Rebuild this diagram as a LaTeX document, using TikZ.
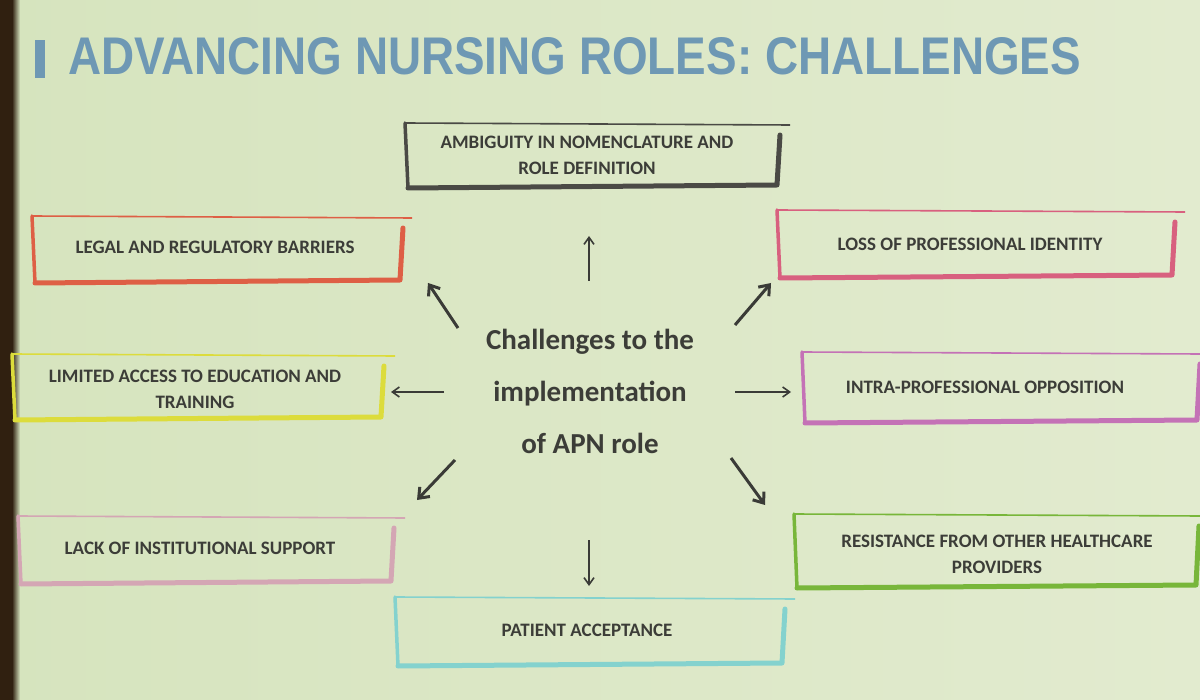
\documentclass[tikz,border=0pt]{standalone}
\usepackage{fontspec}
\setmainfont{Carlito}
\newfontfamily\titlefont{Liberation Sans}
\usetikzlibrary{arrows.meta}
\definecolor{bgA}{HTML}{D6E4BE}
\definecolor{bgB}{HTML}{E2EBCF}
\definecolor{titleblue}{HTML}{6E98B4}
\definecolor{txt}{HTML}{3C3D38}
\definecolor{arr}{HTML}{3A3B37}
\definecolor{cDark}{HTML}{4A4A45}
\definecolor{cRed}{HTML}{DE5F45}
\definecolor{cPink}{HTML}{D8607F}
\definecolor{cYellow}{HTML}{DCDC3C}
\definecolor{cViolet}{HTML}{C472B6}
\definecolor{cRose}{HTML}{D4A6B4}
\definecolor{cGreen}{HTML}{78B63A}
\definecolor{cTeal}{HTML}{84D2CE}
\tikzset{
  boxtext/.style={font=\fontsize{19}{26}\selectfont\bfseries, text=txt, align=center, inner sep=0pt},
  centertext/.style={font=\fontsize{29}{52}\selectfont\bfseries, text=txt, align=center, inner sep=0pt},
  thinarrow/.style={draw=arr, line width=1.6pt, -{Straight Barb[length=7pt,width=10pt,line width=1.6pt]}},
  thickarrow/.style={draw=arr, line width=3pt, -{Straight Barb[length=9pt,width=14pt,line width=3pt]}},
}
% frame: #1 colour, #2 x1, #3 y1, #4 x2, #5 y2, #6 top-line end
\newcommand{\sketchframe}[6]{%
  \draw[#1, line width=1.6pt] (#2,#3) -- (#6,#3+2);
  \draw[#1, line width=3.5pt, line cap=round, line join=round] (#2,#3) -- (#2+3,#5) -- (#4,#5-3);
  \draw[#1, line width=5pt, line cap=round, line join=round] (#2+3,#5) -- (#4,#5-3) -- (#4+3,#3+12);
}
\begin{document}
\begin{tikzpicture}[x=1pt,y=-1pt]
\useasboundingbox (0,0) rectangle (1200,700);
\shade[left color=bgA, right color=bgB] (0,0) rectangle (1200,700);
\fill[black!75!brown] (0,0) rectangle (12,700);
\shade[left color=black!75!brown, right color=bgA] (12,0) rectangle (20,700);
% title
\fill[titleblue] (35,40) rectangle (45,78);
\node[anchor=west, inner sep=0pt, text=titleblue, font=\titlefont\bfseries\fontsize{53}{53}\selectfont, xscale=0.865] (title) at (68,56) {ADVANCING NURSING ROLES: CHALLENGES};
% centre
\node[centertext] (center) at (590,391) {Challenges to the\\implementation\\of APN role};
% boxes
\sketchframe{cDark}{405}{123}{777}{188}{790}
\node[boxtext] (amb) at (587,155) {AMBIGUITY IN NOMENCLATURE AND\\ROLE DEFINITION};
\sketchframe{cRed}{32}{216}{400}{283}{412}
\node[boxtext] (legal) at (215,247) {LEGAL AND REGULATORY BARRIERS};
\sketchframe{cPink}{777}{210}{1172}{278}{1185}
\node[boxtext] (loss) at (970,244) {LOSS OF PROFESSIONAL IDENTITY};
\sketchframe{cYellow}{12}{354}{381}{420}{395}
\node[boxtext] (lim) at (195,389) {LIMITED ACCESS TO EDUCATION AND\\TRAINING};
\sketchframe{cViolet}{802}{352}{1197}{423}{1200}
\node[boxtext] (intra) at (985,387) {INTRA-PROFESSIONAL OPPOSITION};
\sketchframe{cRose}{18}{516}{391}{584}{405}
\node[boxtext] (lack) at (200,548) {LACK OF INSTITUTIONAL SUPPORT};
\sketchframe{cGreen}{794}{514}{1196}{588}{1200}
\node[boxtext] (res) at (997,554) {RESISTANCE FROM OTHER HEALTHCARE\\PROVIDERS};
\sketchframe{cTeal}{395}{597}{782}{666}{795}
\node[boxtext] (pat) at (587,630) {PATIENT ACCEPTANCE};
% arrow end points
\coordinate (uS) at (589,281); \coordinate (uE) at (589,236);
\coordinate (nwS) at (458,328); \coordinate (nwE) at (428,283);
\coordinate (neS) at (735,325); \coordinate (neE) at (771,283);
\coordinate (lS) at (444,392); \coordinate (lE) at (391,392);
\coordinate (rS) at (735,392); \coordinate (rE) at (791,392);
\coordinate (swS) at (455,460); \coordinate (swE) at (417,500);
\coordinate (seS) at (731,458); \coordinate (seE) at (765,505);
\coordinate (dS) at (589,540); \coordinate (dE) at (589,586);
\draw[thinarrow] (uS) -- (uE);
\draw[thickarrow] (nwS) -- (nwE);
\draw[thickarrow] (neS) -- (neE);
\draw[thinarrow] (lS) -- (lE);
\draw[thinarrow] (rS) -- (rE);
\draw[thickarrow] (swS) -- (swE);
\draw[thickarrow] (seS) -- (seE);
\draw[thinarrow] (dS) -- (dE);
\end{tikzpicture}
\end{document}
